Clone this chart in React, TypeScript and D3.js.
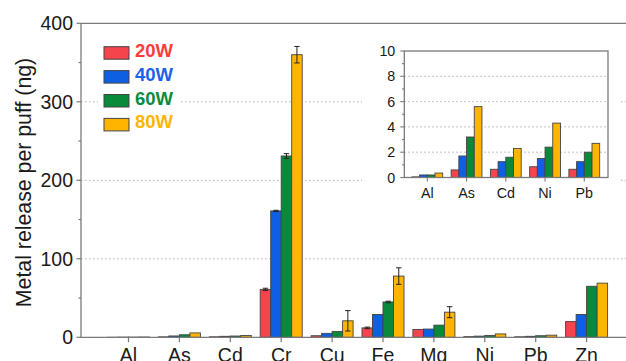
import React from "react";
import * as d3 from "d3";

const categories = ["Al", "As", "Cd", "Cr", "Cu", "Fe", "Mg", "Ni", "Pb", "Zn"];
const series = ["20W", "40W", "60W", "80W"];
const w20 = [0.05, 0.6, 0.65, 61, 2, 12, 10, 0.85, 0.65, 20];
const w40 = [0.2, 1.7, 1.25, 161, 5, 29, 10.5, 1.5, 1.25, 29];
const w60 = [0.2, 3.2, 1.6, 231, 7.5, 45, 15.5, 2.4, 2.0, 65];
const w80 = [0.35, 5.6, 2.3, 360, 21, 78, 32, 4.3, 2.7, 69];
const e20 = [0, 0, 0, 1.5, 0, 1, 0, 0, 0, 0];
const e40 = [0, 0, 0, 0.8, 0, 0, 0, 0, 0, 0];
const e60 = [0, 0, 0, 3, 0, 1, 0, 0, 0, 0];
const e80 = [0, 0, 0, 10.5, 13, 10.5, 7, 0, 0, 0];
const insetCategories = ["Al", "As", "Cd", "Ni", "Pb"];
const mainTicks = [0, 100, 200, 300, 400];
const mainMinor = [50, 150, 250, 350];
const insetTicks = [0, 2, 4, 6, 8, 10];
const insetMinor = [1, 3, 5, 7, 9];

const values = [w20, w40, w60, w80];
const errors = [e20, e40, e60, e80];
const colors = ["#f5444c", "#0e5fe2", "#078b3b", "#ffb400"];
const textColors = ["#ff3c3c", "#1a62ea", "#0a8c3c", "#ffb400"];
const FONT = "'Liberation Sans', Arial, sans-serif";
const AXIS = "#7a7a7a";

export default function App() {
  // main scales
  const x = d3.scaleLinear().domain([0, 9]).range([128.5, 586.6]);
  const y = d3.scaleLinear().domain([0, 400]).range([337.3, 23.3]);
  const bw = 10.5;
  const left = 81;
  const right = 626;

  // inset scales
  const xi = d3.scaleLinear().domain([0, 4]).range([427.3, 584.3]);
  const yi = d3.scaleLinear().domain([0, 10]).range([177.5, 51]);
  const ibw = 7.7;
  const ileft = 404.3;
  const iright = 608;

  return (
    <div style={{ position: "fixed", left: 0, top: 0 }}>
      <svg width={626} height={361} style={{ display: "block", background: "#fff" }} fontFamily={FONT}>
        {/* main grid */}
        {[100, 200, 300].map((t) => (
          <line key={"g" + t} x1={left} x2={right} y1={y(t)} y2={y(t)} stroke="#b0b0b0" strokeWidth={1} strokeDasharray="1.5,2.5" />
        ))}
        {/* main bars */}
        {categories.map((c, i) =>
          values.map((vals, s) => {
            const x0 = x(i) - 2 * bw + s * bw;
            const v = vals[i];
            const h = Math.max(y(0) - y(v), 0.01);
            return (
              <rect key={c + s} x={x0} y={y(v)} width={bw} height={h} fill={colors[s]} stroke="#444" strokeWidth={0.9} />
            );
          })
        )}
        {/* main error bars */}
        {categories.map((c, i) =>
          errors.map((errs, s) => {
            const e = errs[i];
            if (!e) return null;
            const cx = x(i) - 2 * bw + s * bw + bw / 2;
            const v = values[s][i];
            return (
              <g key={"e" + c + s} stroke="#222" strokeWidth={1}>
                <line x1={cx} x2={cx} y1={y(v + e)} y2={y(v - e)} />
                <line x1={cx - 2.7} x2={cx + 2.7} y1={y(v + e)} y2={y(v + e)} />
                <line x1={cx - 2.7} x2={cx + 2.7} y1={y(v - e)} y2={y(v - e)} />
              </g>
            );
          })
        )}
        {/* main axes */}
        <line x1={left} x2={right} y1={y(400)} y2={y(400)} stroke={AXIS} strokeWidth={1.3} />
        <line x1={left} x2={left} y1={y(400)} y2={y(0)} stroke={AXIS} strokeWidth={1.3} />
        <line x1={left} x2={right} y1={y(0)} y2={y(0)} stroke={AXIS} strokeWidth={1.3} />
        {mainTicks.map((t) => (
          <g key={"t" + t}>
            <line x1={left - 4.5} x2={left} y1={y(t)} y2={y(t)} stroke={AXIS} strokeWidth={1.2} />
            <text x={left - 8} y={y(t)} dy="0.35em" textAnchor="end" fontSize={19.5} fill="#1a1a1a">{t}</text>
          </g>
        ))}
        {mainMinor.map((t) => (
          <line key={"m" + t} x1={left - 2.5} x2={left} y1={y(t)} y2={y(t)} stroke={AXIS} strokeWidth={1.2} />
        ))}
        {categories.map((c, i) => (
          <g key={"x" + c}>
            <line x1={x(i)} x2={x(i)} y1={y(0)} y2={y(0) + 5} stroke={AXIS} strokeWidth={1.2} />
            <text x={x(i)} y={362} textAnchor="middle" fontSize={19.5} fill="#1a1a1a">{c}</text>
          </g>
        ))}
        <text transform={`translate(31,182.5) rotate(-90)`} textAnchor="middle" fontSize={21.3} fill="#1a1a1a">
          Metal release per puff (ng)
        </text>

        {/* legend */}
        <rect x={98} y={38} width={82} height={100} fill="#fff" />
        {series.map((s, k) => (
          <g key={"l" + s}>
            <rect x={104} y={46.7 + k * 23.9} width={25} height={12.5} fill={colors[k]} stroke="#444" strokeWidth={1} />
            <text x={135} y={57.3 + k * 23.7} fontSize={18.5} fontWeight="bold" fill={textColors[k]}>{s}</text>
          </g>
        ))}

        {/* inset */}
        <rect x={362} y={38} width={258} height={167} fill="#fff" />
        {[2, 4, 6, 8].map((t) => (
          <line key={"ig" + t} x1={ileft} x2={iright} y1={yi(t)} y2={yi(t)} stroke="#b0b0b0" strokeWidth={1} strokeDasharray="1.5,2.5" />
        ))}
        {insetCategories.map((c, j) => {
          const i = categories.indexOf(c);
          return values.map((vals, s) => {
            const x0 = xi(j) - 2 * ibw + s * ibw;
            const v = vals[i];
            return (
              <rect key={"i" + c + s} x={x0} y={yi(v)} width={ibw} height={yi(0) - yi(v)} fill={colors[s]} stroke="#444" strokeWidth={0.9} />
            );
          });
        })}
        <rect x={ileft} y={yi(10)} width={iright - ileft} height={yi(0) - yi(10)} fill="none" stroke={AXIS} strokeWidth={1.3} />
        {insetTicks.map((t) => (
          <g key={"it" + t}>
            <line x1={ileft - 4} x2={ileft} y1={yi(t)} y2={yi(t)} stroke={AXIS} strokeWidth={1.1} />
            <text x={ileft - 9} y={yi(t)} dy="0.36em" textAnchor="end" fontSize={14.3} fill="#1a1a1a">{t}</text>
          </g>
        ))}
        {insetMinor.map((t) => (
          <line key={"im" + t} x1={ileft - 2.3} x2={ileft} y1={yi(t)} y2={yi(t)} stroke={AXIS} strokeWidth={1.1} />
        ))}
        {insetCategories.map((c, j) => (
          <g key={"ix" + c}>
            <line x1={xi(j)} x2={xi(j)} y1={yi(0)} y2={yi(0) + 4} stroke={AXIS} strokeWidth={1.1} />
            <text x={xi(j)} y={197.5} textAnchor="middle" fontSize={14.3} fill="#1a1a1a">{c}</text>
          </g>
        ))}
      </svg>
    </div>
  );
}
